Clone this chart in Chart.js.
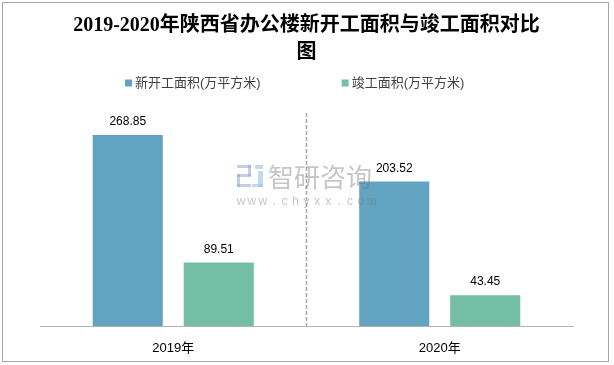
<!DOCTYPE html>
<html lang="zh-CN">
<head>
<meta charset="UTF-8">
<title>2019-2020年陕西省办公楼新开工面积与竣工面积对比图</title>
<script src="https://cdn.jsdelivr.net/npm/chart.js"></script>
<style>
  html, body { margin: 0; padding: 0; background: #fff; }
</style>
</head>
<body>
<canvas id="areaChart" width="614" height="365"></canvas>
<script>
// data
const years = ['2019年', '2020年'];
const newStarts = [268.85, 203.52];   // 新开工面积
const completed = [89.51, 43.45];     // 竣工面积
const seriesNames = ['新开工面积(万平方米)', '竣工面积(万平方米)'];
const seriesColors = ['#62a3c1', '#74bea6'];
const titleLines = ['2019-2020年陕西省办公楼新开工面积与竣工面积对比', '图'];

const cjkSans = '"Liberation Sans", "Noto Sans CJK SC", sans-serif';

// white background + thin grey frame
const framePlugin = {
    id: 'frame',
    beforeDraw(chart) {
        const c = chart.ctx;
        c.save();
        c.fillStyle = '#fff';
        c.fillRect(0, 0, chart.width, chart.height);
        c.strokeStyle = '#a6a6a6';
        c.lineWidth = 1;
        c.strokeRect(2.5, 2.5, chart.width - 8, chart.height - 6);
        c.restore();
    }
};

// dashed separator between the two years
const dividerPlugin = {
    id: 'divider',
    beforeDatasetsDraw(chart) {
        const x = chart.scales.x.getPixelForValue(0.5);
        const area = chart.chartArea;
        const c = chart.ctx;
        c.save();
        c.strokeStyle = '#a9a9a9';
        c.lineWidth = 1.5;
        c.setLineDash([4, 2]);
        c.beginPath();
        c.moveTo(x, area.top);
        c.lineTo(x, area.bottom);
        c.stroke();
        c.restore();
    }
};

// faint company watermark in the middle
const watermarkPlugin = {
    id: 'watermark',
    afterDatasetsDraw(chart) {
        const c = chart.ctx;
        c.save();
        // small logo
        c.fillStyle = 'rgba(150,165,200,0.55)';
        c.fillRect(237, 165, 14, 3);
        c.fillRect(248, 165, 3, 11);
        c.fillRect(237, 174, 14, 3);
        c.fillRect(237, 174, 3, 13);
        c.fillRect(237, 184, 14, 3);
        c.fillStyle = 'rgba(150,195,230,0.6)';
        c.fillRect(255, 165, 8, 4);
        c.fillRect(258, 171, 5, 16);
        c.fillRect(252, 184, 11, 3);
        // company name
        c.fillStyle = 'rgba(120,120,120,0.42)';
        c.font = '26px "Noto Sans CJK SC", sans-serif';
        c.textBaseline = 'middle';
        c.textAlign = 'left';
        c.fillText('智研咨询', 268, 177);
        c.font = '12px "Liberation Sans", sans-serif';
        c.textAlign = 'center';
        const site = 'www.chyxx.com';
        for (let i = 0; i < site.length; i++) {
            c.fillText(site[i], 241 + i * 10.9, 202);
        }
        c.restore();
    }
};

// value labels above every bar
const valuePlugin = {
    id: 'values',
    afterDatasetsDraw(chart) {
        const c = chart.ctx;
        c.save();
        c.font = '12px "Liberation Sans", sans-serif';
        c.fillStyle = '#000';
        c.textAlign = 'center';
        c.textBaseline = 'middle';
        chart.data.datasets.forEach((ds, i) => {
            chart.getDatasetMeta(i).data.forEach((bar, j) => {
                c.fillText(ds.data[j].toFixed(2), bar.x, bar.y - 13);
            });
        });
        c.restore();
    }
};

// legend row under the title, with the wide gap of the original
const legendRowPlugin = {
    id: 'legendRow',
    afterDraw(chart) {
        const c = chart.ctx;
        c.save();
        c.font = '13px ' + cjkSans;
        c.textBaseline = 'middle';
        c.textAlign = 'left';
        let x = 125;
        const y = 83;
        chart.data.datasets.forEach(ds => {
            c.fillStyle = ds.backgroundColor;
            c.fillRect(x, y - 3.5, 7, 7);
            c.fillStyle = '#404040';
            c.fillText(ds.label, x + 10, y);
            x += 10 + c.measureText(ds.label).width + 81;
        });
        c.restore();
    }
};

const ctx = document.getElementById('areaChart').getContext('2d');
const areaChart = new Chart(ctx, {
    type: 'bar',
    data: {
        labels: years,
        datasets: [{
            label: seriesNames[0],
            data: newStarts,
            backgroundColor: seriesColors[0],
            categoryPercentage: 0.683,
            barPercentage: 0.77
        }, {
            label: seriesNames[1],
            data: completed,
            backgroundColor: seriesColors[1],
            categoryPercentage: 0.683,
            barPercentage: 0.77
        }]
    },
    options: {
        responsive: false,
        animation: false,
        layout: {
            padding: { left: 40, right: 41, top: 0, bottom: 8 }
        },
        plugins: {
            legend: { display: false },
            tooltip: { enabled: false },
            title: {
                display: true,
                text: titleLines,
                color: '#000',
                font: { family: '"Liberation Serif", "Noto Sans CJK SC", serif', size: 20, weight: 'bold', lineHeight: 1.35 },
                padding: { top: 12, bottom: 47 }
            }
        },
        scales: {
            x: {
                grid: { display: false, drawTicks: false },
                border: { display: true, color: '#b3b3b3', width: 1 },
                ticks: {
                    color: '#000',
                    padding: 15,
                    font: { family: cjkSans, size: 13 }
                },
                afterFit(scale) {
                    scale.height = 31;
                }
            },
            y: {
                display: false,
                min: 0,
                max: 300
            }
        }
    },
    plugins: [framePlugin, dividerPlugin, watermarkPlugin, valuePlugin, legendRowPlugin]
});
</script>
</body>
</html>
